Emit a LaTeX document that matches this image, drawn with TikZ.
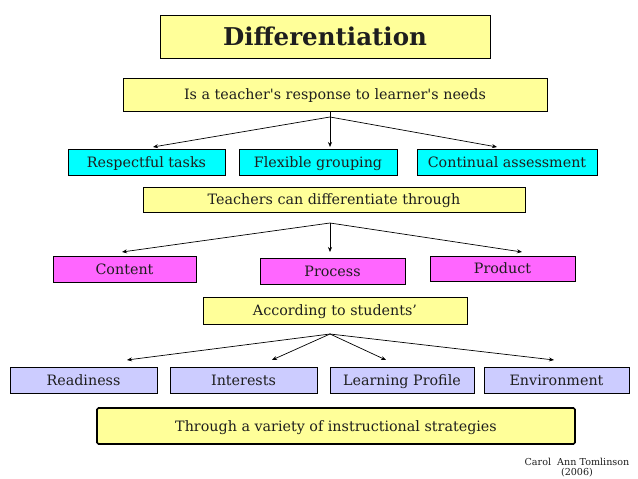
\documentclass[tikz,border=0pt]{standalone}
\usepackage{fontspec}
\setmainfont{DejaVu Serif}
\usetikzlibrary{arrows.meta}
\definecolor{boxyellow}{HTML}{FFFF99}
\definecolor{boxcyan}{HTML}{00FFFF}
\definecolor{boxmag}{HTML}{FF66FF}
\definecolor{boxlav}{HTML}{CCCCFF}
\definecolor{ink}{HTML}{1E1E1E}
\tikzset{
  box/.style={draw=black, line width=0.9pt, inner sep=0pt, text=ink,
    text height=10pt, text depth=0pt,
    font=\fontsize{14.3}{16}\selectfont},
  ybox/.style={box, fill=boxyellow},
  cbox/.style={box, fill=boxcyan, minimum height=26pt},
  mbox/.style={box, fill=boxmag, minimum height=26pt},
  lbox/.style={box, fill=boxlav, minimum height=26pt},
  conn/.style={draw=black, line width=0.7pt, -{Stealth[length=5pt,width=4pt]}},
}
\begin{document}
\begin{tikzpicture}[x=1pt,y=-1pt]
\useasboundingbox (0,0) rectangle (638,479);
\fill[white] (0,0) rectangle (638,479);

\node[ybox, minimum width=330pt, minimum height=43pt, text height=18pt, text depth=1pt, font=\fontsize{24.5}{28}\selectfont\bfseries] (title) at (325,37) {Differentiation};
\node[ybox, minimum width=424pt, minimum height=33pt] (resp) at (335,94.5) {Is a teacher\textquotesingle s response to learner\textquotesingle s needs};

\node[cbox, minimum width=157pt] (tasks) at (146.5,162) {Respectful tasks};
\node[cbox, minimum width=158pt] (group) at (318,162) {Flexible grouping};
\node[cbox, minimum width=180pt] (assess) at (507,162) {Continual assessment};

\node[ybox, minimum width=382pt, minimum height=25pt] (through) at (334,199.5) {Teachers can differentiate through};

\node[mbox, minimum width=143pt] (content) at (124.5,269) {Content};
\node[mbox, minimum width=145pt] (process) at (332.5,271) {Process};
\node[mbox, minimum width=145pt, minimum height=25pt] (product) at (502.5,268.5) {Product};

\node[ybox, minimum width=264pt, minimum height=27pt] (students) at (335,310.5) {According to students’};

\node[lbox, minimum width=147pt] (ready) at (83.5,380) {Readiness};
\node[lbox, minimum width=147pt] (interest) at (243.5,380) {Interests};
\node[lbox, minimum width=144pt] (profile) at (402,380) {Learning Profile};
\node[lbox, minimum width=145pt] (environ) at (556.5,380) {Environment};

\node[ybox, line width=1.6pt, rounded corners=1.5pt, minimum width=478pt, minimum height=36pt] (strat) at (336,426) {Through a variety of instructional strategies};

\node[font=\fontsize{9.6}{10}\selectfont, text=ink, inner sep=0pt, align=center] (credit) at (577,467.5) {Carol\ \ Ann Tomlinson\\[0.5pt](2006)};

% connectors set 1
\coordinate (apexA) at (330,117);
\coordinate (endA1) at (153,147);
\coordinate (endA2) at (330,147);
\coordinate (endA3) at (497,147);
\draw[line width=0.7pt] (resp.south -| apexA) -- (apexA);
\draw[conn] (apexA) -- (endA1);
\draw[conn] (apexA) -- (endA2);
\draw[conn] (apexA) -- (endA3);

% connectors set 2
\coordinate (apexB) at (330,223);
\coordinate (endB1) at (122,252);
\coordinate (endB2) at (330,252);
\coordinate (endB3) at (522,252);
\draw[conn] (apexB) -- (endB1);
\draw[conn] (apexB) -- (endB2);
\draw[conn] (apexB) -- (endB3);

% connectors set 3
\coordinate (apexC) at (330,334);
\coordinate (endC1) at (127,360);
\coordinate (endC2) at (272,360);
\coordinate (endC3) at (386,360);
\coordinate (endC4) at (554,360);
\draw[conn] (apexC) -- (endC1);
\draw[conn] (apexC) -- (endC2);
\draw[conn] (apexC) -- (endC3);
\draw[conn] (apexC) -- (endC4);
\end{tikzpicture}
\end{document}
